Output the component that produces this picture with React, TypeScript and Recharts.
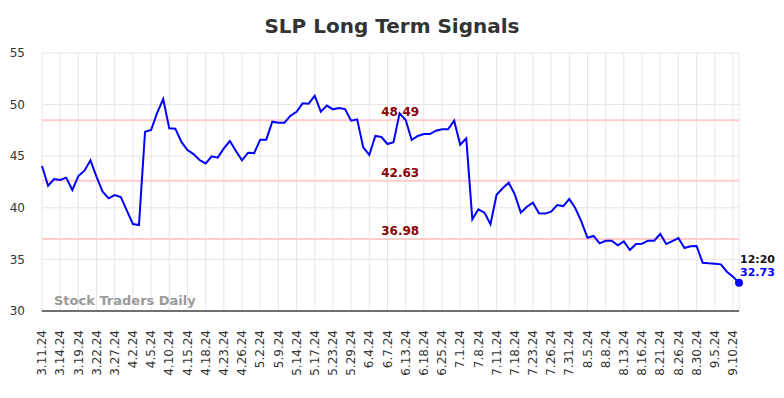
import React from 'react';
import { LineChart, Line, XAxis, YAxis, CartesianGrid, ReferenceLine } from 'recharts';

const TICK_LABELS = [
  '3.11.24', '3.14.24', '3.19.24', '3.22.24', '3.27.24', '4.2.24', '4.5.24', '4.10.24',
  '4.15.24', '4.18.24', '4.23.24', '4.26.24', '5.2.24', '5.9.24', '5.14.24', '5.17.24',
  '5.23.24', '5.29.24', '6.4.24', '6.7.24', '6.13.24', '6.18.24', '6.25.24', '7.1.24',
  '7.8.24', '7.11.24', '7.18.24', '7.23.24', '7.26.24', '7.31.24', '8.5.24', '8.8.24',
  '8.13.24', '8.16.24', '8.21.24', '8.26.24', '8.30.24', '9.5.24', '9.10.24',
];

const PRICES = [
  44.05, 42.14, 42.79, 42.69, 42.92, 41.72, 43.08, 43.6, 44.6, 43.0,
  41.56, 40.92, 41.24, 41.05, 39.72, 38.43, 38.33, 47.37, 47.54, 49.2,
  50.54, 47.7, 47.67, 46.38, 45.6, 45.2, 44.63, 44.3, 44.99, 44.86,
  45.76, 46.47, 45.5, 44.6, 45.34, 45.3, 46.6, 46.6, 48.34, 48.25,
  48.25, 48.93, 49.31, 50.12, 50.09, 50.86, 49.31, 49.9, 49.54, 49.67,
  49.57, 48.44, 48.57, 45.86, 45.12, 46.96, 46.86, 46.18, 46.35, 49.15,
  48.5, 46.57, 46.96, 47.15, 47.15, 47.47, 47.6, 47.6, 48.44, 46.12,
  46.73, 38.88, 39.85, 39.53, 38.4, 41.27, 41.89, 42.43, 41.3, 39.53,
  40.11, 40.5, 39.47, 39.44, 39.63, 40.27, 40.17, 40.85, 39.95, 38.66,
  37.1, 37.27, 36.56, 36.81, 36.81, 36.36, 36.75, 35.91, 36.49, 36.52,
  36.81, 36.81, 37.46, 36.49, 36.78, 37.07, 36.1, 36.27, 36.3, 34.68,
  34.62, 34.58, 34.52, 33.81, 33.33, 32.73,
];

const SIGNALS = [48.49, 42.63, 36.98];
const Y_TICKS = [30, 35, 40, 45, 50, 55];
const LAST_TIME = '12:20';

const FONT = '"DejaVu Sans", sans-serif';
const TICK_STEP = 3;

const data = PRICES.map((price, idx) => ({ idx, price }));
const xTicks = TICK_LABELS.map((_, i) => i * TICK_STEP);
const lastIdx = PRICES.length - 1;

const XTick = (props: any) => {
  const { x, y, payload } = props;
  const label = TICK_LABELS[Math.round(payload.value / TICK_STEP)] ?? '';
  return (
    <g transform={`translate(${x},${y + 11})`}>
      <text x={0} y={0} dy="0.35em" textAnchor="end" transform="rotate(-90)"
        fontSize={12} fill="#333" fontFamily={FONT}>
        {label}
      </text>
    </g>
  );
};

const signalLabel = (value: number) => (props: any) => {
  const { viewBox } = props;
  const cx = viewBox.x + viewBox.width * 0.514;
  return (
    <text x={cx} y={viewBox.y - 4} textAnchor="middle" fontSize={12} fontWeight="bold"
      fill="#8b0000" fontFamily={FONT}>
      {value.toFixed(2)}
    </text>
  );
};

const LastDot = (props: any) => {
  const { cx, cy, index } = props;
  if (index !== lastIdx) return <g key={`d-${index}`} />;
  return (
    <g key={`d-${index}`}>
      <circle cx={cx} cy={cy} r={4} fill="#0000ff" />
      <text x={cx + 1} y={cy - 20} fontSize={11} fontWeight="bold" fill="#111" fontFamily={FONT}>
        {LAST_TIME}
      </text>
      <text x={cx + 1} y={cy - 7} fontSize={11} fontWeight="bold" fill="#0000ff" fontFamily={FONT}>
        {PRICES[lastIdx].toFixed(2)}
      </text>
    </g>
  );
};

export default function App() {
  return (
    <div style={{ position: 'absolute', left: 0, top: 0, width: 784, height: 398, background: '#fff' }}>
      <div style={{
        position: 'absolute', left: 0, top: 14, width: 784, textAlign: 'center',
        fontFamily: FONT, fontWeight: 'bold', fontSize: 20, color: '#333',
      }}>
        SLP Long Term Signals
      </div>
      <LineChart width={784} height={398} data={data} margin={{ top: 53, right: 45, left: 0, bottom: 0 }}>
        <CartesianGrid stroke="#e6e6e6" strokeWidth={1} />
        <XAxis
          type="number"
          dataKey="idx"
          domain={[0, lastIdx]}
          ticks={xTicks}
          interval={0}
          height={87}
          tickLine={false}
          axisLine={{ stroke: '#444', strokeWidth: 1.5 }}
          tick={<XTick />}
        />
        <YAxis
          domain={[30, 55]}
          ticks={Y_TICKS}
          width={42}
          axisLine={false}
          tickLine={false}
          tickMargin={11}
          tick={{ fontSize: 12, fill: '#333', fontFamily: FONT }}
        />
        {SIGNALS.map(s => (
          <ReferenceLine key={s} y={s} stroke="#ffcccc" strokeWidth={2} label={signalLabel(s)} />
        ))}
        <Line
          type="linear"
          dataKey="price"
          stroke="#0000ff"
          strokeWidth={2}
          dot={LastDot}
          activeDot={false}
          isAnimationActive={false}
        />
      </LineChart>
      <div style={{
        position: 'absolute', left: 54, top: 293, fontFamily: FONT, fontWeight: 'bold',
        fontSize: 13, color: '#9a9a9a',
      }}>
        Stock Traders Daily
      </div>
    </div>
  );
}
